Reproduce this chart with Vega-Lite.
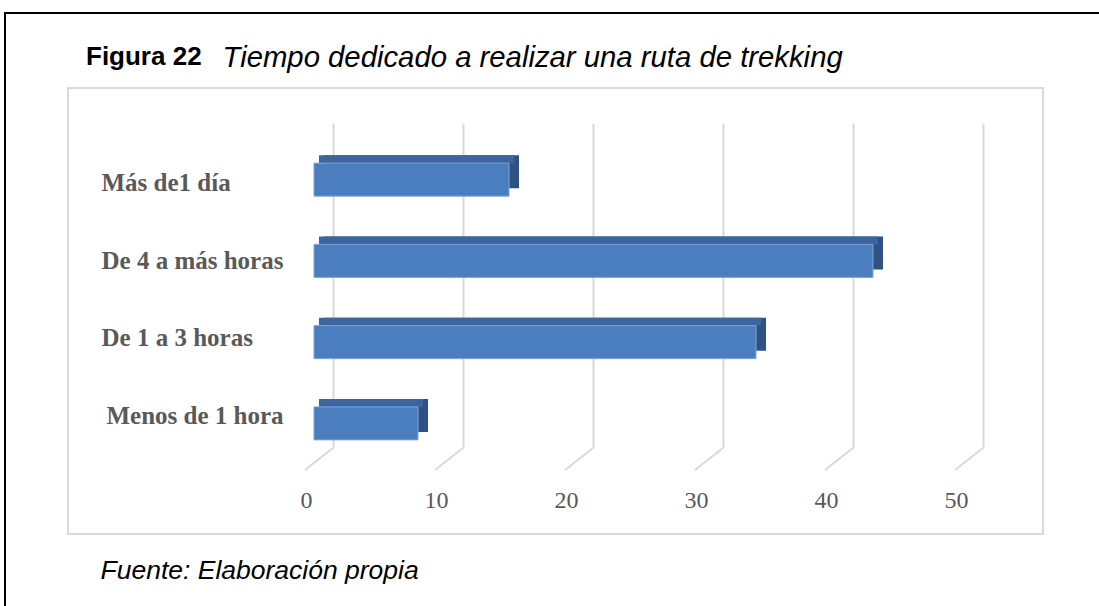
{
  "$schema": "https://vega.github.io/schema/vega-lite/v6.json",
  "width": 650,
  "height": 325,
  "autosize": {"type": "none"},
  "padding": {"left": 333, "top": 123, "right": 116, "bottom": 158},
  "background": "white",
  "config": {"view": {"stroke": null}},
  "title": {
    "text": "Figura 22",
    "anchor": "start",
    "frame": "group",
    "dx": -247,
    "dy": 62,
    "font": "Liberation Sans",
    "fontSize": 26,
    "fontWeight": "bold",
    "color": "#000000"
  },
  "datasets": {
    "barras": [
      {"categoria": "Más de1 día", "valor": 15},
      {"categoria": "De 4 a más horas", "valor": 43},
      {"categoria": "De 1 a 3 horas", "valor": 34},
      {"categoria": "Menos de 1 hora", "valor": 8}
    ],
    "marcas": [
      {"valor": 0}, {"valor": 10}, {"valor": 20}, {"valor": 30}, {"valor": 40}, {"valor": 50}
    ]
  },
  "resolve": {"scale": {"y": "independent"}, "axis": {"y": "independent"}},
  "layer": [
    {
      "data": {"values": [{}]},
      "mark": {"type": "rect", "filled": false, "stroke": "#000000", "strokeWidth": 2, "xOffset": -328, "x2Offset": 300, "yOffset": 300, "y2Offset": -110},
      "encoding": {
        "x": {"datum": 0, "type": "quantitative"},
        "x2": {"datum": 50},
        "y": {"datum": 0, "type": "quantitative", "scale": {"domain": [0, 1]}, "axis": null},
        "y2": {"datum": 1}
      }
    },
    {
      "data": {"values": [{}]},
      "mark": {"type": "rect", "filled": false, "stroke": "#d9d9d9", "strokeWidth": 2, "xOffset": -265, "x2Offset": 60, "yOffset": 86, "y2Offset": -35},
      "encoding": {
        "x": {"datum": 0, "type": "quantitative"},
        "x2": {"datum": 50},
        "y": {"datum": 0, "type": "quantitative", "scale": {"domain": [0, 1]}, "axis": null},
        "y2": {"datum": 1}
      }
    },
    {
      "data": {"name": "marcas"},
      "mark": {"type": "point", "shape": "M1,-0.786L-1,0.786", "size": 784, "filled": false, "stroke": "#d9d9d9", "strokeWidth": 2, "opacity": 1, "xOffset": -14, "yOffset": 173.5},
      "encoding": {
        "x": {
          "field": "valor", "type": "quantitative",
          "scale": {"domain": [0, 50], "nice": false, "zero": true},
          "axis": {
            "values": [0, 10, 20, 30, 40, 50],
            "grid": true, "gridColor": "#d9d9d9", "gridWidth": 2,
            "domain": false, "ticks": false, "tickSize": 0,
            "labelFont": "Liberation Serif", "labelFontSize": 24, "labelColor": "#595959",
            "labelFlush": false, "labelBound": false, "labelOverlap": false,
            "labelOffset": -27, "labelPadding": 52, "labelBaseline": "middle",
            "title": "Fuente: Elaboración propia",
            "titleFont": "Liberation Sans", "titleFontSize": 26.5, "titleFontStyle": "italic", "titleFontWeight": "normal",
            "titleColor": "#000000", "titleX": -233, "titleY": 122, "titleAlign": "left", "titleBaseline": "middle", "titleAngle": 0
          }
        }
      }
    },
    {
      "data": {"name": "barras"},
      "mark": {"type": "bar", "color": "#2f5283", "size": 33, "xOffset": -9, "x2Offset": -9, "yOffset": 8, "y2Offset": 8},
      "encoding": {
        "x": {
          "field": "valor", "type": "quantitative",
          "scale": {"domain": [0, 50], "nice": false, "zero": true},
          "axis": {
            "values": [0, 10, 20, 30, 40, 50],
            "grid": true, "gridColor": "#d9d9d9", "gridWidth": 2,
            "domain": false, "ticks": false, "tickSize": 0,
            "labelFont": "Liberation Serif", "labelFontSize": 24, "labelColor": "#595959",
            "labelFlush": false, "labelBound": false, "labelOverlap": false,
            "labelOffset": -27, "labelPadding": 52, "labelBaseline": "middle",
            "title": "Fuente: Elaboración propia",
            "titleFont": "Liberation Sans", "titleFontSize": 26.5, "titleFontStyle": "italic", "titleFontWeight": "normal",
            "titleColor": "#000000", "titleX": -233, "titleY": 122, "titleAlign": "left", "titleBaseline": "middle", "titleAngle": 0
          }
        },
        "y": {
          "field": "categoria", "type": "nominal",
          "sort": ["Más de1 día", "De 4 a más horas", "De 1 a 3 horas", "Menos de 1 hora"],
          "scale": {"paddingInner": 0, "paddingOuter": 0},
          "axis": {
            "domain": false, "ticks": false, "tickSize": 0, "grid": false,
            "labelFont": "Liberation Serif", "labelFontSize": 25, "labelFontWeight": "bold", "labelColor": "#595959",
            "labelAlign": "left", "labelBaseline": "middle", "labelLimit": 400,
            "labelPadding": {"condition": {"test": "datum.value === 'Menos de 1 hora'", "value": 227}, "value": 232},
            "labelOffset": {"condition": [
              {"test": "datum.value === 'Más de1 día'", "value": 19},
              {"test": "datum.value === 'De 4 a más horas'", "value": 16},
              {"test": "datum.value === 'De 1 a 3 horas'", "value": 12}
            ], "value": 9},
            "title": "Tiempo dedicado a realizar una ruta de trekking",
            "titleFont": "Liberation Sans", "titleFontSize": 29.3, "titleFontStyle": "italic", "titleFontWeight": "normal",
            "titleColor": "#000000", "titleAngle": 0, "titleX": -111, "titleY": -66, "titleAlign": "left", "titleBaseline": "middle"
          }
        }
      }
    },
    {
      "data": {"name": "barras"},
      "mark": {"type": "bar", "color": "#3c65a0", "size": 8, "xOffset": -14, "x2Offset": -14, "yOffset": -4.5, "y2Offset": -4.5},
      "encoding": {
        "x": {"field": "valor", "type": "quantitative"},
        "y": {
          "field": "categoria", "type": "nominal",
          "sort": ["Más de1 día", "De 4 a más horas", "De 1 a 3 horas", "Menos de 1 hora"],
          "scale": {"paddingInner": 0, "paddingOuter": 0},
          "axis": null
        }
      }
    },
    {
      "data": {"name": "barras"},
      "mark": {"type": "bar", "color": "#4a7ebf", "stroke": "#7fa4d4", "strokeWidth": 1, "size": 33, "xOffset": -19, "x2Offset": -19, "yOffset": 16, "y2Offset": 16},
      "encoding": {
        "x": {"field": "valor", "type": "quantitative"},
        "y": {
          "field": "categoria", "type": "nominal",
          "sort": ["Más de1 día", "De 4 a más horas", "De 1 a 3 horas", "Menos de 1 hora"],
          "scale": {"paddingInner": 0, "paddingOuter": 0},
          "axis": null
        }
      }
    }
  ]
}
